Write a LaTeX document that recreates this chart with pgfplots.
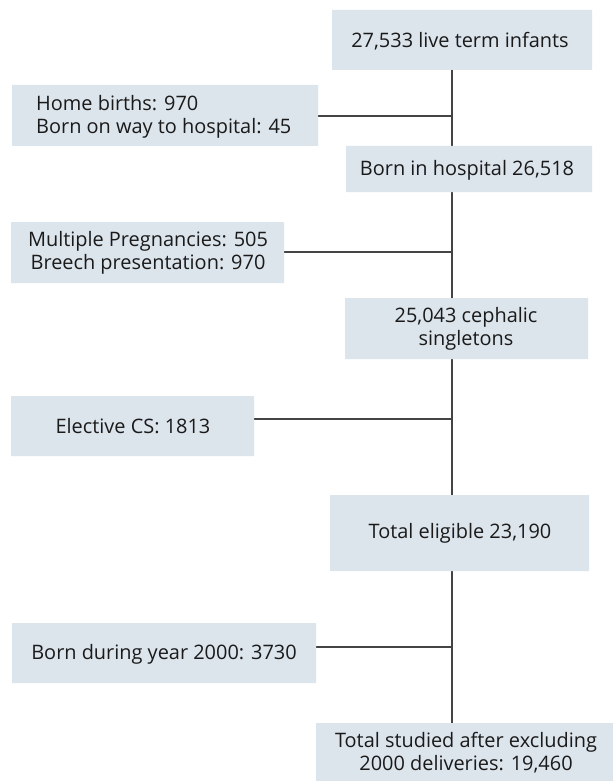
\documentclass[border=0pt]{standalone}
\usepackage{pgfplots}
\pgfplotsset{compat=1.18}
\usepackage{fontspec}
\setmainfont{Open Sans}
\definecolor{boxc}{HTML}{DCE4EC}
\definecolor{linec}{HTML}{444444}
\definecolor{txtc}{HTML}{1A1A1A}
\begin{document}
\begin{tikzpicture}
\begin{axis}[
  width=613bp, height=781bp, scale only axis,
  xmin=0, xmax=613, ymin=0, ymax=781, y dir=reverse,
  hide axis, clip=false,
]
% bounding area
\addplot[fill=white, draw=none] coordinates {(0,0) (613,0) (613,781) (0,781) (0,0)};
% connectors
\addplot[linec, line width=1.4pt] coordinates {(452,70) (452,723)};
\addplot[linec, line width=1.4pt] coordinates {(318,116) (452,116)};
\addplot[linec, line width=1.4pt] coordinates {(284,252) (452,252)};
\addplot[linec, line width=1.4pt] coordinates {(254,419) (452,419)};
\addplot[linec, line width=1.4pt] coordinates {(316,647) (452,647)};
% boxes
\addplot[fill=boxc, draw=none] coordinates {(332,10) (592,10) (592,70) (332,70) (332,10)};
\addplot[fill=boxc, draw=none] coordinates {(12,85) (318,85) (318,146) (12,146) (12,85)};
\addplot[fill=boxc, draw=none] coordinates {(346,146) (592,146) (592,192) (346,192) (346,146)};
\addplot[fill=boxc, draw=none] coordinates {(11,222) (284,222) (284,283) (11,283) (11,222)};
\addplot[fill=boxc, draw=none] coordinates {(345,298) (588,298) (588,359) (345,359) (345,298)};
\addplot[fill=boxc, draw=none] coordinates {(11,396) (254,396) (254,456) (11,456) (11,396)};
\addplot[fill=boxc, draw=none] coordinates {(330,495) (589,495) (589,571) (330,571) (330,495)};
\addplot[fill=boxc, draw=none] coordinates {(12,623) (316,623) (316,683) (12,683) (12,623)};
\addplot[fill=boxc, draw=none] coordinates {(316,723) (613,723) (613,781) (316,781) (316,723)};
% texts
\begin{scope}[every node/.style={text=txtc, font=\fontsize{20}{23}\selectfont, inner sep=0pt}]
\node[anchor=center] at (axis cs:460,41) {27,533 live term infants};
\node[anchor=west, align=left] at (axis cs:36,117) {Home births: 970\\Born on way to hospital: 45};
\node[anchor=center] at (axis cs:467,170) {Born in hospital 26,518};
\node[anchor=center, align=center] at (axis cs:148,253) {Multiple Pregnancies: 505\\Breech presentation: 970};
\node[anchor=center, align=center] at (axis cs:466,329) {25,043 cephalic\\singletons};
\node[anchor=center] at (axis cs:133,426) {Elective CS: 1813};
\node[anchor=center] at (axis cs:460,533) {Total eligible 23,190};
\node[anchor=center] at (axis cs:164,654) {Born during year 2000: 3730};
\node[anchor=center, align=center] at (axis cs:466,753) {Total studied after excluding\\2000 deliveries: 19,460};
\end{scope}
\end{axis}
\end{tikzpicture}
\end{document}
